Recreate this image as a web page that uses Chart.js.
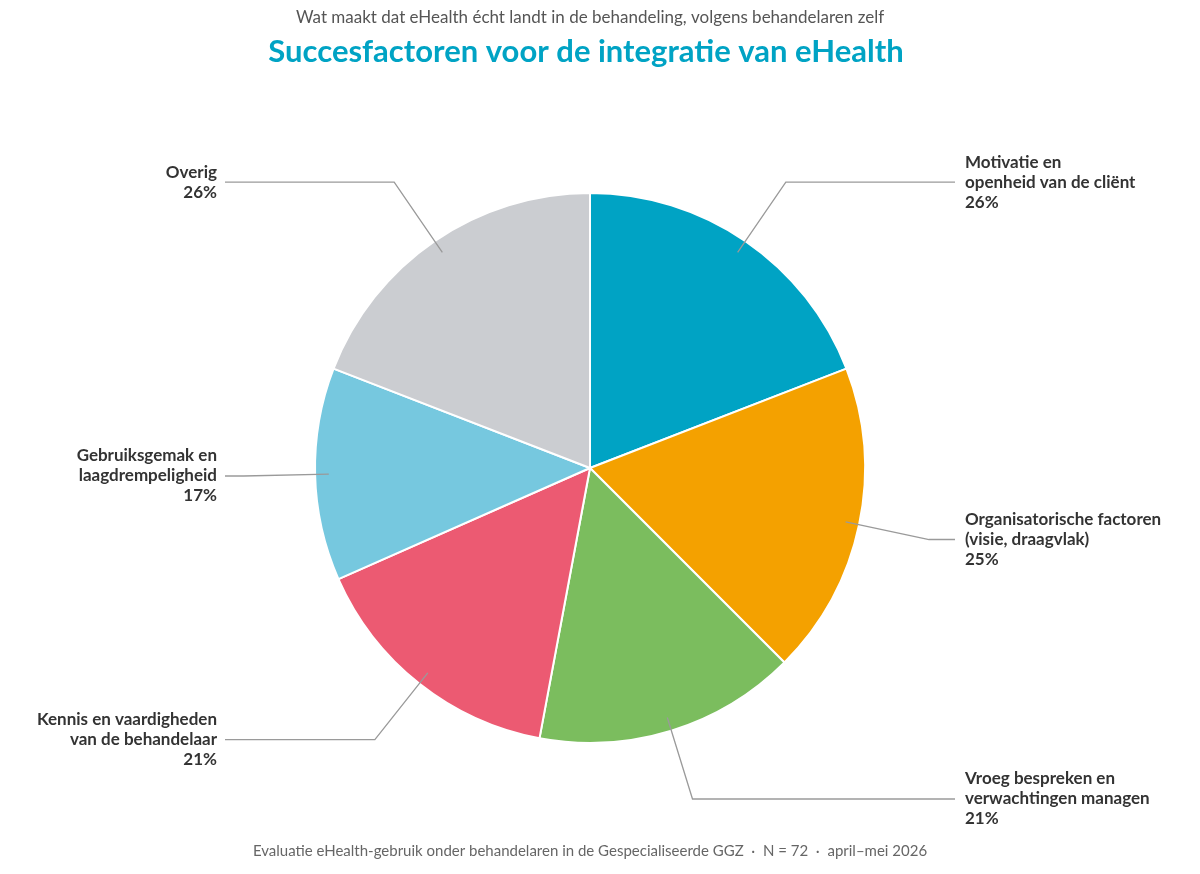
<!DOCTYPE html>
<html>
<head>
<meta charset="utf-8">
<script src="https://cdn.jsdelivr.net/npm/chart.js@4"></script>
<style>
  html, body { margin: 0; padding: 0; background: #fff; }
  #wrap { width: 1200px; height: 874px; }
</style>
</head>
<body>
<div id="wrap"><canvas id="myChart" width="1200" height="874"></canvas></div>
<script>
const labels = [
  ["Motivatie en", "openheid van de cliënt"],
  ["Organisatorische factoren", "(visie, draagvlak)"],
  ["Vroeg bespreken en", "verwachtingen managen"],
  ["Kennis en vaardigheden", "van de behandelaar"],
  ["Gebruiksgemak en", "laagdrempeligheid"],
  ["Overig"],
];
const values = [26, 25, 21, 21, 17, 26];
const colors = ["#00a3c4", "#f4a100", "#7bbd5e", "#ec5a72", "#76c8df", "#cbcdd1"];

const subtitleText = "Wat maakt dat eHealth écht landt in de behandeling, volgens behandelaren zelf";
const titleText = "Succesfactoren voor de integratie van eHealth";
const footerText = "Evaluatie eHealth-gebruik onder behandelaren in de Gespecialiseerde GGZ  ·  N = 72  ·  april–mei 2026";

const FONT = "Lato, 'Noto Sans', sans-serif";

const annotate = {
  id: "annotate",
  afterDraw(chart) {
    const ctx = chart.ctx;
    ctx.save();
    ctx.textAlign = "center";
    ctx.textBaseline = "middle";
    ctx.fillStyle = "#555";
    ctx.font = "17px " + FONT;
    ctx.fillText(subtitleText, 590, 18);
    ctx.fillStyle = "#00a3c4";
    ctx.font = "bold 31px " + FONT;
    ctx.fillText(titleText, 586, 52);
    ctx.fillStyle = "#666";
    ctx.font = "15px " + FONT;
    ctx.fillText(footerText, 590, 851);

    const meta = chart.getDatasetMeta(0);
    meta.data.forEach((arc, i) => {
      const mid = (arc.startAngle + arc.endAngle) / 2;
      const r = arc.outerRadius;
      const ax = arc.x + Math.cos(mid) * r * 0.95, ay = arc.y + Math.sin(mid) * r * 0.95;
      const ex = arc.x + Math.cos(mid) * r * 1.26, ey = arc.y + Math.sin(mid) * r * 1.26;
      const right = Math.cos(mid) > 0;
      const lx = right ? 955 : 225;
      ctx.strokeStyle = "#9a9a9a";
      ctx.lineWidth = 1.3;
      ctx.beginPath();
      ctx.moveTo(ax, ay);
      ctx.lineTo(ex, ey);
      ctx.lineTo(lx, ey);
      ctx.stroke();
      const lines = labels[i].concat([values[i] + "%"]);
      ctx.fillStyle = "#333";
      ctx.font = "bold 17px " + FONT;
      ctx.textAlign = right ? "left" : "right";
      const tx = right ? 965 : 217;
      const y0 = ey - (lines.length - 1) * 10;
      lines.forEach((t, k) => ctx.fillText(t, tx, y0 + k * 20));
    });
    ctx.restore();
  },
};

const data = {
  labels: labels.map(l => l.join(" ")),
  datasets: [{
    data: values,
    backgroundColor: colors,
    borderColor: "#ffffff",
    borderWidth: 2,
  }],
};

const config = {
  type: "pie",
  data: data,
  options: {
    responsive: false,
    animation: false,
    layout: { padding: { top: 192, bottom: 130, left: 314, right: 334 } },
    plugins: {
      legend: { display: false },
      tooltip: { enabled: false },
    },
  },
  plugins: [annotate],
};

const myChart = new Chart(document.querySelector("#myChart"), config);
</script>
</body>
</html>
